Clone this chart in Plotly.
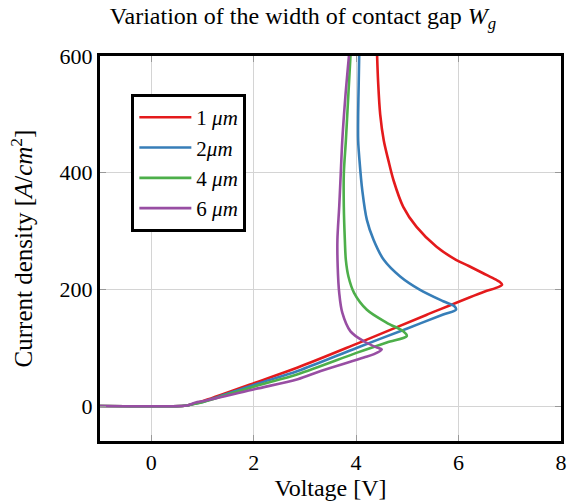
import plotly.graph_objects as go

# ---- data ----
v_1um = [-1.0, 0.6, 0.7, 0.8, 1.0, 2.03, 2.86, 4.02, 5.37, 6.5, 6.72, 6.85, 6.8, 6.72, 6.47, 6.2, 5.95, 5.57, 5.18, 4.92, 4.73, 4.63, 4.54, 4.47, 4.43, 4.41]
j_1um = [0, 0, 1, 3, 8, 40, 66, 107, 156, 196, 202, 208, 213, 217, 228, 240, 250.6, 273, 307, 341.5, 387, 421, 455, 500, 555, 600]

v_2um = [-1.0, 0.6, 0.7, 0.8, 1.0, 2.03, 2.86, 4.02, 5.0, 5.7, 5.95, 5.92, 5.7, 5.24, 4.86, 4.54, 4.34, 4.21, 4.12, 4.066, 4.04, 4.04, 4.05, 4.06]
j_2um = [0, 0, 1, 3, 7, 37, 60, 100, 133, 157, 165, 171, 179.5, 199.5, 222, 250.6, 285, 319, 370, 421, 455, 500, 550, 600]

v_4um = [-1.0, 0.6, 0.7, 0.8, 1.0, 2.03, 2.86, 4.02, 4.6, 4.99, 4.92, 4.6, 4.21, 3.96, 3.85, 3.80, 3.78, 3.76, 3.76, 3.80, 3.84, 3.89]
j_4um = [0, 0, 1, 3, 6.5, 34, 54.5, 91.5, 109, 120, 128, 142.7, 165, 194, 222, 250, 285, 341.5, 398, 455, 520, 600]

v_6um = [-1.0, 0.6, 0.7, 0.87, 1.0, 2.03, 2.86, 3.31, 4.15, 4.35, 4.50, 4.41, 4.15, 3.89, 3.73, 3.67, 3.64, 3.635, 3.67, 3.70, 3.73, 3.79, 3.86]
j_6um = [0, 0, 1, 6, 8, 29, 46, 60, 83, 89, 97, 100, 111, 128, 160, 194, 240, 285, 341.5, 398, 455, 530, 600]

series_names = ["1 <i>μm</i>", "2<i>μm</i>", "4 <i>μm</i>", "6 <i>μm</i>"]
series_colors = ["#e41a1c", "#377eb8", "#4daf4a", "#984ea3"]

x_ticks = [0, 2, 4, 6, 8]
y_ticks = [0, 200, 400, 600]

FONT = "'Liberation Serif', 'Times New Roman', Times, serif"

fig = go.Figure()
for xs, ys, name, col in zip([v_1um, v_2um, v_4um, v_6um],
                             [j_1um, j_2um, j_4um, j_6um],
                             series_names, series_colors):
    fig.add_trace(go.Scatter(x=xs, y=ys, mode="lines", name=name,
                             line=dict(color=col, width=2.6, shape="spline", smoothing=0.9)))

axis_common = dict(
    showline=True, linecolor="black", linewidth=3, mirror="allticks",
    showgrid=True, gridcolor="#d4d4d4", gridwidth=1,
    ticks="inside", ticklen=6, tickcolor="#999999", tickwidth=1,
    zeroline=False,
    tickfont=dict(family=FONT, size=22, color="black"),
)

fig.update_layout(
    width=573, height=501,
    margin=dict(l=100, r=6, t=56, b=60),
    paper_bgcolor="white", plot_bgcolor="white",
    font=dict(family=FONT, size=21, color="black"),
    title=dict(text="Variation of the width of contact gap <i>W</i><sub><i>g</i></sub>",
               x=303/573, xanchor="center", xref="container",
               y=0.985, yanchor="top", yref="container",
               font=dict(family=FONT, size=24, color="black")),
    xaxis=dict(range=[-1, 8], tickvals=x_ticks,
               title=dict(text="Voltage [V]", standoff=2,
                          font=dict(family=FONT, size=24)),
               **axis_common),
    yaxis=dict(range=[-60, 600], tickvals=y_ticks,
               title=dict(text="Current density [<i>A</i>/<i>cm</i><sup>2</sup>]", standoff=20,
                          font=dict(family=FONT, size=25)),
               **axis_common),
    legend=dict(x=0.068, y=0.901, xanchor="left", yanchor="top",
                bgcolor="white", bordercolor="black", borderwidth=3,
                font=dict(family=FONT, size=21),
                itemwidth=52,
                tracegroupgap=0),
    showlegend=True,
)

fig.write_html("out.html")
